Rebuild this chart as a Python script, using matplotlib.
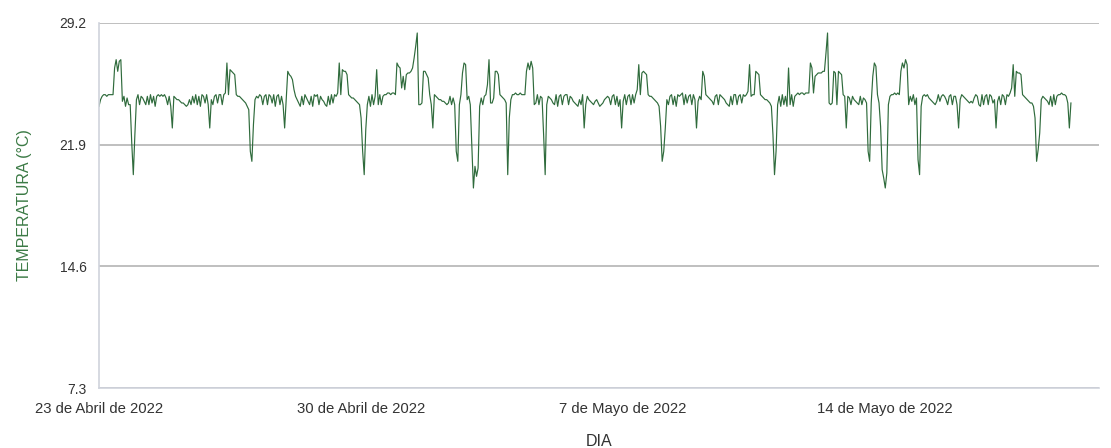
import pandas as pd
import matplotlib
matplotlib.use("Agg")
import matplotlib.pyplot as plt

plt.rcParams["font.family"] = ["Liberation Sans", "DejaVu Sans"]

# hourly readings starting 23 Apr 2022 00:00, one row per day
inicio = "2022-04-23 00:00"
temperatura = [
    24.2, 24.6, 24.8, 24.9, 24.9, 24.8, 24.9, 24.9, 24.9, 24.9, 26.5, 27.0, 26.3, 26.9, 27.0, 24.5, 24.8, 24.2, 24.7, 24.3, 24.3, 22.0, 20.1, 22.5,
    24.6, 24.9, 24.3, 24.8, 24.7, 24.5, 24.3, 24.8, 24.3, 24.9, 24.4, 24.8, 24.2, 24.8, 24.9, 24.8, 24.9, 24.8, 24.9, 24.7, 24.3, 24.8, 24.2, 22.9,
    24.8, 24.7, 24.6, 24.6, 24.5, 24.4, 24.4, 24.3, 24.2, 24.3, 24.6, 24.3, 24.8, 24.4, 24.9, 24.3, 24.8, 24.2, 24.9, 24.8, 24.4, 24.9, 24.3, 22.9,
    24.6, 24.3, 24.8, 24.9, 24.4, 24.9, 24.9, 24.3, 24.9, 25.0, 26.8, 24.9, 26.4, 26.3, 26.2, 26.1, 24.9, 24.8, 24.8, 24.7, 24.6, 24.5, 24.4, 24.2,
    24.0, 21.5, 20.9, 23.1, 24.6, 24.8, 24.7, 24.9, 24.8, 24.3, 24.8, 24.9, 24.3, 24.9, 24.8, 24.4, 24.9, 24.2, 24.8, 24.9, 24.3, 24.8, 24.3, 22.9,
    24.6, 26.3, 26.1, 26.0, 25.8, 25.2, 24.8, 24.6, 24.4, 24.2, 24.8, 24.3, 24.9, 24.7, 24.5, 24.3, 24.8, 24.2, 24.9, 24.8, 24.9, 24.3, 24.8, 24.6,
    24.5, 24.3, 24.2, 24.8, 24.3, 24.9, 24.4, 24.9, 24.8, 25.0, 26.8, 24.9, 26.4, 26.3, 26.3, 26.1, 24.9, 24.8, 24.7, 24.7, 24.6, 24.5, 24.4, 24.3,
    23.5, 21.5, 20.1, 22.8, 24.3, 24.8, 24.2, 24.9, 24.3, 24.8, 26.4, 24.3, 24.9, 24.3, 24.8, 24.9, 24.9, 25.0, 25.0, 24.9, 25.0, 25.0, 24.9, 26.8,
    26.6, 26.5, 25.3, 26.0, 25.2, 26.1, 26.2, 26.2, 26.3, 26.5, 27.1, 27.8, 28.6, 24.3, 24.3, 24.4, 26.3, 26.3, 26.1, 25.9, 24.9, 24.3, 22.9, 24.9,
    24.8, 24.7, 24.6, 24.6, 24.5, 24.5, 24.4, 24.3, 24.4, 24.8, 24.3, 24.7, 24.3, 21.5, 20.9, 24.3, 24.9, 26.2, 26.8, 26.7, 24.6, 24.8, 24.3, 21.8,
    19.3, 20.6, 20.0, 20.5, 24.2, 24.7, 24.3, 24.8, 24.9, 25.5, 27.0, 24.4, 24.4, 24.7, 26.3, 26.3, 26.1, 24.9, 24.8, 24.7, 24.6, 24.4, 20.1, 23.5,
    24.6, 24.9, 24.9, 25.0, 24.9, 24.9, 25.0, 24.9, 24.9, 24.9, 26.3, 26.8, 26.4, 26.9, 26.5, 24.3, 24.4, 24.9, 24.3, 24.8, 24.7, 22.5, 20.1, 24.3,
    24.8, 24.7, 24.6, 24.4, 24.3, 24.9, 24.2, 24.8, 24.9, 24.3, 24.8, 24.9, 24.9, 24.3, 24.8, 24.7, 24.5, 24.4, 24.3, 24.2, 24.6, 24.3, 24.9, 22.9,
    24.3, 24.8, 24.6, 24.5, 24.4, 24.3, 24.5, 24.6, 24.4, 24.2, 24.3, 24.4, 24.6, 24.7, 24.8, 24.7, 24.3, 24.8, 24.9, 24.3, 24.8, 24.2, 24.6, 22.9,
    24.5, 24.9, 24.3, 24.8, 24.9, 24.3, 24.9, 24.4, 24.9, 25.2, 26.7, 24.9, 26.2, 26.3, 26.2, 26.1, 24.9, 24.8, 24.8, 24.7, 24.6, 24.5, 24.4, 24.2,
    23.0, 20.9, 21.5, 22.9, 24.6, 24.3, 24.8, 24.9, 24.3, 24.8, 24.2, 24.9, 24.8, 24.9, 25.0, 24.3, 24.9, 24.4, 24.8, 24.9, 24.3, 24.9, 24.6, 22.9,
    24.5, 24.8, 24.6, 26.3, 26.0, 24.9, 24.8, 24.7, 24.6, 24.5, 24.3, 24.8, 24.9, 24.3, 24.9, 24.8, 24.7, 24.6, 24.4, 24.3, 24.2, 24.8, 24.3, 24.9,
    24.9, 24.3, 24.8, 24.9, 24.4, 24.9, 24.8, 24.9, 25.1, 26.7, 24.8, 24.9, 24.9, 26.3, 26.2, 26.1, 24.9, 24.8, 24.7, 24.6, 24.6, 24.5, 24.4, 24.2,
    22.5, 20.1, 21.5, 24.3, 24.8, 24.2, 24.9, 24.3, 24.8, 24.2, 26.5, 24.3, 24.9, 24.2, 24.8, 24.9, 25.0, 24.9, 25.0, 25.0, 24.9, 25.0, 25.0, 25.0,
    26.8, 26.5, 25.0, 26.0, 26.1, 26.2, 26.2, 26.2, 26.3, 26.3, 27.4, 28.6, 24.4, 24.3, 24.4, 26.3, 26.2, 24.3, 26.3, 26.2, 26.1, 24.9, 24.8, 22.9,
    24.8, 24.7, 24.3, 24.8, 24.6, 24.5, 24.4, 24.3, 24.8, 24.3, 24.7, 24.6, 24.4, 21.5, 20.9, 24.4, 26.0, 26.8, 26.6, 24.9, 24.4, 23.0, 20.4, 19.9,
    19.3, 20.2, 24.3, 24.8, 24.9, 24.9, 25.0, 24.9, 25.0, 24.9, 26.3, 26.8, 26.5, 27.0, 26.7, 24.3, 24.8, 24.5, 24.9, 24.3, 24.7, 21.0, 20.1, 24.2,
    24.8, 24.9, 24.8, 24.9, 24.7, 24.6, 24.5, 24.4, 24.3, 24.5, 24.9, 24.5, 24.8, 24.9, 24.8, 24.6, 24.3, 24.8, 24.9, 24.3, 24.8, 24.8, 24.3, 22.9,
    24.6, 24.9, 24.8, 24.7, 24.6, 24.5, 24.4, 24.5, 24.4, 24.7, 24.9, 24.8, 24.3, 24.2, 24.9, 24.3, 24.8, 24.9, 24.3, 24.9, 24.8, 24.4, 24.6, 22.9,
    24.5, 24.8, 24.3, 24.9, 24.8, 24.3, 24.9, 24.8, 25.0, 25.3, 26.7, 24.8, 26.3, 26.2, 26.2, 26.1, 24.9, 24.8, 24.7, 24.6, 24.5, 24.4, 24.4, 24.2,
    23.5, 20.9, 21.6, 22.6, 24.6, 24.8, 24.7, 24.6, 24.5, 24.3, 24.8, 24.2, 24.9, 24.3, 24.8, 24.9, 24.9, 25.0, 24.9, 24.9, 24.8, 24.4, 22.9, 24.4,
]

y_ticks = [7.3, 14.6, 21.9, 29.2]
x_tick_fechas = ["2022-04-23", "2022-04-30", "2022-05-07", "2022-05-14"]
x_tick_labels = ["23 de Abril de 2022", "30 de Abril de 2022", "7 de Mayo de 2022", "14 de Mayo de 2022"]

fechas = pd.date_range(inicio, periods=len(temperatura), freq="h")

fig = plt.figure(figsize=(11.11, 4.48), dpi=100)
ax = fig.add_axes([0.0891, 0.1339, 0.9001, 0.8148])

ax.plot(fechas, temperatura, color="#2f6b3c", linewidth=0.85)

ax.set_ylim(y_ticks[0], y_ticks[-1])
ax.set_yticks(y_ticks)
ax.set_yticklabels([f"{v:.1f}" for v in y_ticks])
ax.set_xlim(pd.Timestamp(inicio), pd.Timestamp(inicio) + pd.Timedelta(hours=641))
ax.set_xticks(pd.to_datetime(x_tick_fechas))
ax.set_xticklabels(x_tick_labels)

ax.grid(axis="y", color="#b4b4b4", linewidth=1.2)
ax.set_axisbelow(True)
for lado in ["top", "right"]:
    ax.spines[lado].set_visible(False)
ax.spines["left"].set_color("#cfd3dc")
ax.spines["bottom"].set_color("#cfd3dc")
ax.spines["left"].set_linewidth(1.2)
ax.spines["bottom"].set_linewidth(1.2)

ax.tick_params(axis="both", length=0, labelcolor="#333333")
ax.tick_params(axis="y", pad=9, labelsize=10)
ax.tick_params(axis="x", pad=10, labelsize=10.7)

ax.set_ylabel("TEMPERATURA (°C)", color="#3b7a45", fontsize=11.5, labelpad=20)
ax.set_xlabel("DIA", color="#333333", fontsize=11.5, labelpad=13)

fig.savefig("out.png", dpi=100)
